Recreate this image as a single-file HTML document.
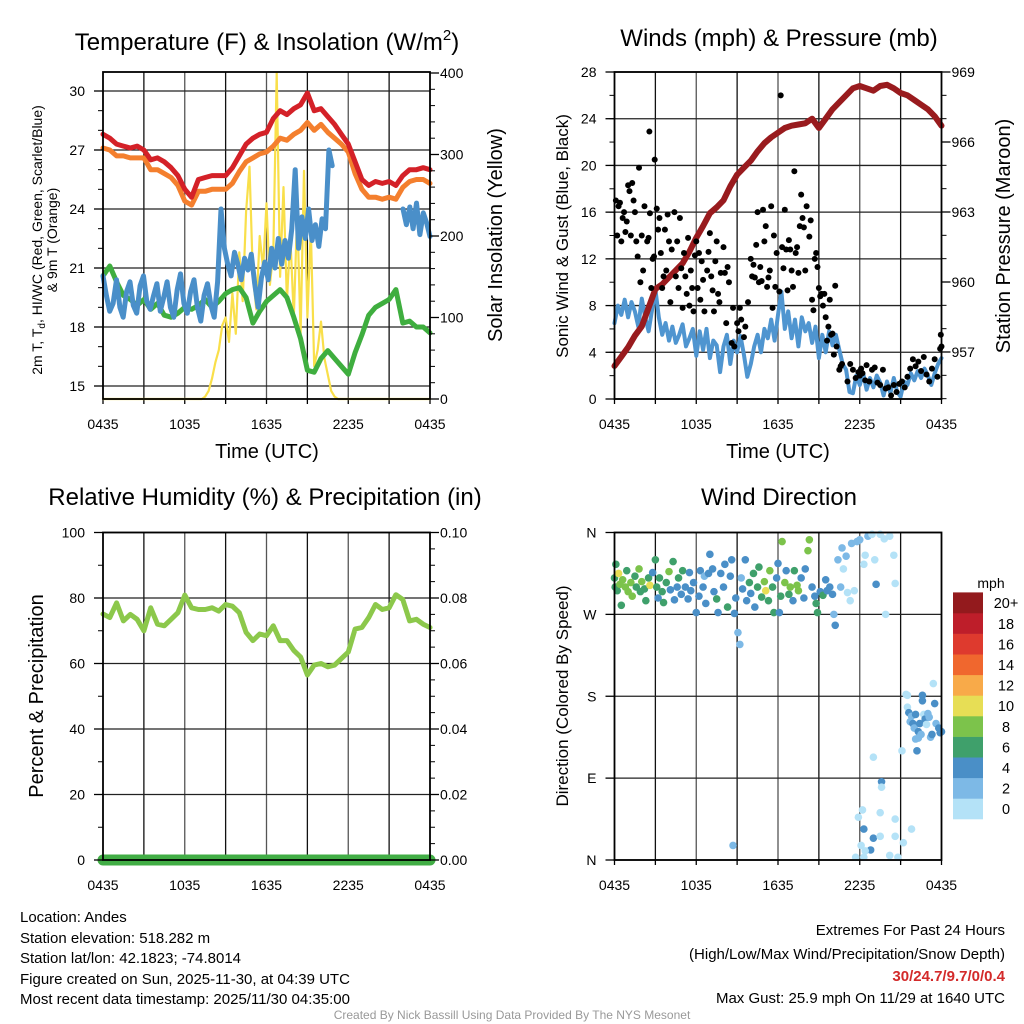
<!DOCTYPE html>
<html><head><meta charset="utf-8"><title>Station Meteogram</title>
<style>
html,body{margin:0;padding:0;background:#fff;}
svg{display:block;font-family:"Liberation Sans",Arial,sans-serif;}
</style></head>
<body>
<svg id="chart" width="1024" height="1024" viewBox="0 0 1024 1024" xmlns="http://www.w3.org/2000/svg">
<rect x="0" y="0" width="1024" height="1024" fill="#fff"/>
<text x="267" y="50" font-size="24" text-anchor="middle">Temperature (F) &amp; Insolation (W/m<tspan dy="-10" font-size="15">2</tspan><tspan dy="10">)</tspan></text>
<text x="779" y="46" font-size="24" text-anchor="middle">Winds (mph) &amp; Pressure (mb)</text>
<text x="265" y="505" font-size="24" text-anchor="middle">Relative Humidity (%) &amp; Precipitation (in)</text>
<text x="779" y="505" font-size="24" text-anchor="middle">Wind Direction</text>

<text transform="translate(42,240) rotate(-90)" font-size="14" text-anchor="middle">2m T, T<tspan font-size="10" dy="3">d</tspan><tspan dy="-3">, HI/WC (Red, Green, Scarlet/Blue)</tspan></text>
<text transform="translate(57,240) rotate(-90)" font-size="14" text-anchor="middle">&amp; 9m T (Orange)</text>
<text transform="translate(502,235) rotate(-90)" font-size="20" text-anchor="middle">Solar Insolation (Yellow)</text>
<text transform="translate(568,236) rotate(-90)" font-size="17" text-anchor="middle">Sonic Wind &amp; Gust (Blue, Black)</text>
<text transform="translate(1010,236) rotate(-90)" font-size="20" text-anchor="middle">Station Pressure (Maroon)</text>
<text transform="translate(43,696) rotate(-90)" font-size="20" text-anchor="middle">Percent &amp; Precipitation</text>
<text transform="translate(568,696) rotate(-90)" font-size="17" text-anchor="middle">Direction (Colored By Speed)</text>
<text x="267" y="458" font-size="20" text-anchor="middle">Time (UTC)</text>
<text x="778" y="458" font-size="20" text-anchor="middle">Time (UTC)</text>

<g font-size="15">
<text x="20" y="922">Location: Andes</text>
<text x="20" y="943">Station elevation: 518.282 m</text>
<text x="20" y="963">Station lat/lon: 42.1823; -74.8014</text>
<text x="20" y="984">Figure created on Sun, 2025-11-30, at 04:39 UTC</text>
<text x="20" y="1004">Most recent data timestamp: 2025/11/30 04:35:00</text>
</g>
<g font-size="15" text-anchor="end">
<text x="1005" y="935">Extremes For Past 24 Hours</text>
<text x="1005" y="959">(High/Low/Max Wind/Precipitation/Snow Depth)</text>
<text x="1005" y="981" fill="#d32a2a" font-weight="bold">30/24.7/9.7/0/0.4</text>
<text x="1005" y="1003">Max Gust: 25.9 mph On 11/29 at 1640 UTC</text>
</g>
<text x="512" y="1019" font-size="12" fill="#999" text-anchor="middle">Created By Nick Bassill Using Data Provided By The NYS Mesonet</text>
</svg>
<script>
// ---------- DATA ----------
const xTickLabels = ["0435","1035","1635","2235","0435"];
const tempTicks = [15,18,21,24,27,30];
const insolTicks = [0,100,200,300,400];
const windTicks = [0,4,8,12,16,20,24,28];
const presTicks = [957,960,963,966,969];
const rhTicks = [0,20,40,60,80,100];
const precipTicks = ["0.00","0.02","0.04","0.06","0.08","0.10"];
const dirTickLabels = ["N","E","S","W","N"];
const speedBinLabels = ["0","2","4","6","8","10","12","14","16","18","20+"];
const speedColors = ["#b4e2f7","#7db9e6","#4a8fc7","#3fa06b","#7cc34b","#e7de55","#f8aa49","#f0672e","#de3a2e","#be1e2a","#931a1d"];

const airTemp = [27.8,27.6,27.3,27.2,27.1,27.2,27.0,26.5,26.6,26.4,26.1,25.7,25.0,24.6,25.5,25.6,25.7,25.7,25.7,26.1,26.7,27.3,27.6,27.8,27.9,28.6,29.0,28.8,29.1,29.3,29.9,29.0,29.1,28.7,28.3,27.8,27.3,26.4,25.5,25.2,25.4,25.3,25.4,25.2,25.7,26.0,26.0,26.1,26.0];
const temp9m = [27.1,27.0,26.7,26.7,26.6,26.6,26.6,26.0,26.0,25.8,25.6,25.2,24.4,24.2,24.9,24.9,25.0,25.0,25.0,25.3,25.9,26.4,26.6,26.8,26.9,27.2,27.6,27.5,27.8,28.0,28.4,28.0,28.3,27.9,27.6,27.3,26.9,25.8,25.0,24.6,24.6,24.5,24.6,24.5,25.1,25.4,25.5,25.5,25.3];
const dewPoint = [20.6,21.1,20.3,19.6,19.4,19.1,19.4,18.9,19.2,18.6,18.5,18.7,19.0,18.9,19.1,19.4,19.0,19.3,19.7,19.9,20.0,19.5,18.2,18.8,19.3,19.6,19.9,19.5,18.5,17.4,15.8,15.7,16.4,16.8,16.4,16.0,15.6,16.7,17.6,18.6,19.0,19.2,19.4,19.9,18.2,18.3,18.0,18.0,17.7];
const heatIndex = [20.6,19.6,18.8,19.2,20.4,19.0,18.5,19.8,20.3,19.1,18.7,20.1,20.6,19.3,18.9,19.6,20.2,18.8,19.5,20.3,19.0,18.5,19.9,20.7,19.2,18.7,19.8,20.4,19.0,18.3,19.6,20.2,19.1,18.5,20.3,24.0,22.0,21.2,20.6,21.8,21.2,20.4,21.5,20.9,21.7,20.2,19.0,20.5,21.3,20.4,22.0,21.0,22.5,21.2,22.4,21.5,23.0,26.0,22.0,23.6,22.5,24.0,22.4,23.2,22.1,23.5,23.0,27.0,26.2,null,null,null,null,null,null,null,null,null,null,null,null,null,null,null,null,null,null,null,null,24.0,23.2,24.1,23.0,24.3,22.7,23.8,23.3,22.6];
const insolation = [0,0,0,0,0,0,0,0,0,0,0,0,0,0,0,0,0,0,0,0,0,0,0,0,0,0,0,0,0,0,3,10,25,45,60,90,100,70,130,80,180,120,230,285,150,110,200,160,240,140,180,400,150,260,120,200,100,230,80,280,100,210,40,60,95,50,30,10,3,0,0,0,0,0,0,0,0,0,0,0,0,0,0,0,0,0,0,0,0,0,0,0,0,0,0,0,0];

const windSpeed = [6.5,8.0,7.2,8.5,7.0,8.3,7.5,6.2,8.6,7.0,5.8,7.6,9.4,7.0,5.5,6.5,5.0,6.2,4.8,5.5,6.4,4.5,5.2,6.0,3.7,5.8,4.2,6.0,3.5,5.0,4.6,2.3,4.5,5.5,3.0,5.0,4.0,5.4,3.8,1.9,3.0,4.5,5.5,4.0,6.0,5.2,6.8,5.0,7.2,9.2,6.0,7.5,5.2,6.8,4.5,7.0,5.8,6.5,4.8,6.2,3.5,5.5,4.0,5.8,4.6,5.5,4.2,3.0,2.5,0.6,0.5,2.0,1.2,2.2,0.8,1.8,1.0,2.0,1.4,0.3,1.5,0.5,1.8,0.6,0.2,1.5,1.2,2.2,1.6,2.4,1.8,2.6,2.0,1.2,2.2,3.0,3.5];
const pressure = [956.4,956.8,957.2,957.7,958.1,958.9,959.7,959.9,960.2,960.5,960.8,961.3,961.9,962.4,962.95,963.2,963.5,964.1,964.6,964.9,965.2,965.6,965.95,966.2,966.4,966.6,966.7,966.75,966.8,967.0,966.6,967.0,967.4,967.7,968.0,968.3,968.4,968.3,968.2,968.4,968.45,968.3,968.1,968.0,967.8,967.6,967.4,967.1,966.7];
const gustTimes = [0.1,0.2,0.3,0.4,0.5,0.6,0.7,0.8,0.9,1.0,1.1,1.2,1.3,1.4,1.5,1.6,1.7,1.8,1.9,2.0,2.1,2.2,2.56,2.4,2.5,2.6,2.7,2.8,2.9,2.95,3.1,3.2,3.3,3.4,3.5,3.6,3.7,3.8,3.9,4.0,4.1,4.2,4.4,4.5,4.6,4.7,4.8,4.9,5.0,5.1,5.2,5.3,5.4,5.5,5.6,5.7,5.8,5.9,6.0,6.1,6.2,6.3,6.4,6.5,6.6,6.8,6.9,7.0,7.1,7.2,7.3,7.4,7.5,7.6,7.7,7.8,8.0,8.1,8.2,8.3,8.4,8.6,8.7,8.8,9.0,9.1,9.2,9.3,9.5,9.6,9.8,10.0,10.1,10.2,10.3,10.4,10.5,10.6,10.7,10.8,10.9,11.0,11.1,11.2,11.3,11.4,11.5,11.6,11.7,11.8,11.9,12.2,12.1,12.3,12.4,12.5,12.6,12.7,12.8,12.9,13.0,13.1,13.2,13.3,13.4,13.5,13.6,13.7,13.8,13.9,14.0,14.1,14.3,14.4,14.5,14.6,14.7,14.8,14.9,15.0,15.1,15.2,15.3,15.4,15.5,15.6,15.7,15.8,15.9,16.0,16.1,16.2,16.3,16.5,16.6,16.7,17.1,17.3,17.5,17.7,17.9,18.0,18.1,18.2,18.4,18.5,18.7,18.9,19.1,19.3,19.5,19.7,19.9,20.1,20.3,20.5,20.7,20.9,21.1,21.3,21.5,21.7,21.9,22.1,22.3,22.5,22.7,22.9,23.1,23.3,23.5,23.7,23.9,23.95,24.0];
const gustValues = [17,14,16.5,16.8,13.5,15.5,16,14.3,15.2,18.3,17.8,14,18.5,17,16,13.5,12.2,19.8,10,14,11,16.5,22.9,13.5,13.8,15.9,9.5,12,12.2,20.5,16.3,14.5,15.5,12.5,9.5,10.5,14.5,11,15.8,13.5,8.3,12.8,16,10.5,13.5,9.5,15.5,11.2,7.8,12.5,10.5,9,13.8,8,11,9.5,7.5,12.3,13.5,9.5,12.5,8.5,11.8,10.2,7.5,11,12.6,14.2,10.5,9.3,7.5,11.8,13.5,9,8.3,10.8,13,10.8,6.5,11.3,10,4.8,7.8,4.5,6.5,5.8,7.8,6.8,5.3,6.2,8.3,12,10.5,11.5,10.4,13.2,16,10,11.3,10.1,16.2,13.5,14.8,9.6,10.4,11,16.5,7.8,14,9.6,12.5,26,9.2,13,11.2,16.2,12.8,9.3,13.6,12.8,11,9.6,19.5,12.5,13,10.8,14.8,17.5,15.5,14.7,11,16.5,13.9,15.3,8.5,7.6,12,12.5,11.3,9.5,8.8,9,8,9,7,5,6.2,8.5,5.5,5.6,3.8,9.7,4.5,2.5,2.8,3.0,1.5,3.0,2.5,1.8,2.3,2.0,2.6,2.2,1.6,2.9,1.5,2.5,2.7,1.4,1.2,2.5,0.9,1.0,0.3,1.2,0.6,1.3,1.5,1.0,1.9,2.6,3.4,2.8,3.2,2.4,3.6,2.1,1.5,2.6,3.4,1.9,4.3,5.5,4.5];

const rhValues = [75.1,74,78.5,73,75,73.5,70,77,72,71.5,73.5,75.5,80.9,77,76.5,76.5,77,76,78,77.5,75.5,69.5,67,69,68.5,71.5,67,67,64,62,56.5,59.5,60,59,59.5,61.5,63.5,70.5,71,74,78,76.5,77,81,79.5,73,73.5,72,71];
const precipValues = [0,0,0,0,0,0,0,0,0,0,0,0,0,0,0,0,0,0,0,0,0,0,0,0,0];

const dirTimes = [0.0,0.05,0.1,0.2,0.3,0.4,0.5,0.6,0.8,0.9,1.0,1.2,1.3,1.5,1.6,1.8,1.9,2.0,2.2,2.3,2.5,2.6,2.8,3.0,3.1,3.2,3.3,3.5,3.6,3.8,4.0,4.1,4.3,4.4,4.6,4.7,4.9,5.0,5.2,5.4,5.5,5.6,5.8,6.0,6.2,6.3,6.5,6.6,6.7,6.9,7.0,7.2,7.3,7.5,7.6,7.8,8.0,8.1,8.3,8.5,8.6,8.7,8.8,8.9,9.06,9.2,9.3,9.4,9.6,9.7,9.9,10.0,10.2,10.3,10.5,10.6,10.8,11.0,11.1,11.3,11.4,11.6,11.7,11.9,12.0,12.1,12.2,12.3,12.5,12.6,12.8,12.9,13.1,13.2,13.4,13.5,13.7,13.9,14.0,14.2,14.3,14.5,14.7,14.8,14.9,15.1,15.3,15.5,15.6,15.8,16.0,16.1,16.2,16.4,16.6,16.7,16.8,17.0,17.1,17.3,17.4,17.6,17.8,18.0,18.3,18.4,18.6,18.9,19.1,19.2,19.5,19.8,19.9,20.2,20.5,20.6,19.0,19.6,19.6,19.5,20.6,17.9,18.2,18.3,19.0,19.5,18.1,18.8,18.4,17.7,18.3,20.2,20.8,20.6,21.2,21.8,21.1,21.4,21.5,21.5,21.6,21.7,21.8,21.9,22.0,22.1,22.1,22.2,22.3,22.3,22.4,22.5,22.6,22.6,22.7,22.8,22.9,23.0,23.1,23.2,23.3,23.4,23.5,23.6,23.8,23.9,24.0];
const dirValues = [310,300,325,296,315,303,280,308,300,318,295,305,290,312,300,320,295,306,298,285,310,302,316,330,300,288,310,295,283,305,317,297,328,286,300,310,292,318,300,287,316,296,305,272,290,318,300,312,282,315,336,320,295,287,272,315,300,325,278,312,330,16,271,288,250,237,310,298,330,285,305,293,315,278,300,322,289,306,296,285,318,300,272,310,326,272,290,350,305,318,292,300,285,318,302,296,310,288,320,340,352,300,290,282,272,295,291,308,296,300,292,270,258,330,300,343,320,334,294,285,348,296,350,352,325,335,356,358,330,303,358,353,270,356,335,304,113,86,80,52,45,47,55,34,24,26,16,11,10,3,3,5,3,26,19,34,120,182,181,168,162,152,158,150,145,160,133,120,141,134,150,138,181,175,160,155,149,161,157,135,138,194,172,150,145,140,141];
const dirSpeeds = [7,6,6,7,10,8,6,9,8,7,8,9,8,6,7,8,6,9,6,6,7,10,5,6,7,5,7,6,6,7,8,5,6,5,4,6,5,6,4,5,4,4,5,4,4,5,4,3,4,5,4,4,5,6,4,4,4,5,6,4,4,3,4,5,3,3,3,5,4,4,6,5,6,4,6,7,6,8,10,6,8,6,6,4,4,4,6,8,8,4,6,8,4,7,8,8,4,5,5,8,8,5,4,6,6,4,6,5,4,4,4,3,4,2,3,3,1,2,1,1,3,1,2,3,1,0,3,1,1,4,1,1,1,1,1,1,0,4,0,0,0,0,0,4,4,0,0,4,0,0,1,0,0,0,0,0,0,0,0,0,4,2,2,4,2,4,2,4,4,2,4,2,4,4,0,4,0,2,2,2,4,0,4,2,4,4,4];

// ---------- HELPERS ----------
const NS = "http://www.w3.org/2000/svg";
const svg = document.getElementById("chart");
function mk(tag, attrs, parent){
  const el = document.createElementNS(NS, tag);
  for (const k in attrs) el.setAttribute(k, attrs[k]);
  (parent || svg).appendChild(el);
  return el;
}
function linScale(d0,d1,r0,r1){ return v => r0 + (v-d0)*(r1-r0)/(d1-d0); }

const P1 = {x0:103,x1:430,y0:72,y1:399};
const P2 = {x0:614.5,x1:941.5,y0:72,y1:399};
const P3 = {x0:103,x1:430,y0:532.5,y1:860};
const P4 = {x0:614.5,x1:941.5,y0:532.5,y1:860};

function drawFrame(P, name, hLines){
  const g = mk("g", {});
  
  
  const xs = linScale(0,24,P.x0,P.x1);
  for (let h=3; h<24; h+=3){
    const l = mk("line",{x1:xs(h),x2:xs(h),y1:P.y0,y2:P.y1,stroke:(h%6===0?"#555":"#111"),"stroke-width":1.3}, g);
    
    
  }
  hLines.forEach(y=>{
    const l = mk("line",{x1:P.x0,x2:P.x1,y1:y,y2:y,stroke:"#222","stroke-width":1.3}, g);
    
    
  });
  for (let h=0; h<=24; h+=3){
    const t = mk("line",{x1:xs(h),x2:xs(h),y1:P.y1,y2:P.y1+5,stroke:"#000","stroke-width":1.3}, g);
    
    
  }
  xTickLabels.forEach((lab,i)=>{
    const t = mk("text",{x:xs(i*6),y:P.y1+30,"font-size":14,"text-anchor":"middle"}, g);
    t.textContent = lab;
    
    
  });
}
function drawBorder(P, name){
  const r = mk("rect",{x:P.x0,y:P.y0,width:P.x1-P.x0,height:P.y1-P.y0,fill:"none",stroke:"#000","stroke-width":1.8});
  
  
}
function yAxis(P, side, scale, majors, labels, minorStep, dmin, dmax, name){
  const g = mk("g",{});
  
  
  const x = side==="left"?P.x0:P.x1, dir = side==="left"?-1:1;
  if (minorStep){
    for (let v=Math.ceil(dmin/minorStep)*minorStep; v<=dmax+1e-9; v+=minorStep){
      const t = mk("line",{x1:x,x2:x+dir*5,y1:scale(v),y2:scale(v),stroke:"#000","stroke-width":1}, g);
      
      
    }
  }
  majors.forEach((v,i)=>{
    const t = mk("line",{x1:x,x2:x+dir*9,y1:scale(v),y2:scale(v),stroke:"#000","stroke-width":1.3}, g);
    
    
    const tx = mk("text",{x:x+dir*(side==="left"?18:10),y:scale(v)+5,"font-size":14,"text-anchor":side==="left"?"end":"start"}, g);
    tx.textContent = labels[i];
    
    
  });
}
function drawLine(times, vals, xs, ys, color, width, name){
  let segs=[], cur=[];
  vals.forEach((v,i)=>{
    if (v===null){ if(cur.length) segs.push(cur); cur=[]; }
    else cur.push(xs(times[i]).toFixed(1)+","+ys(v).toFixed(1));
  });
  if (cur.length) segs.push(cur);
  const g = mk("g",{});
  
  
  segs.forEach(s=>{
    const p = mk("polyline",{points:s.join(" "),fill:"none",stroke:color,"stroke-width":width,"stroke-linejoin":"round","stroke-linecap":"round"}, g);
    
    
  });
}
function timesFor(arr){ return arr.map((_,i)=>i*24/(arr.length-1)); }

// ---------- PANEL 1 ----------
{
  const xs = linScale(0,24,P1.x0,P1.x1);
  const yT = linScale(15,30,386,91);
  const yI = linScale(0,400,399,73);
  drawFrame(P1, "temperature", tempTicks.map(yT));
  drawLine(timesFor(insolation), insolation, xs, yI, "#f9df4a", 2.2, "insolation-line");
  drawLine(timesFor(airTemp), temp9m, xs, yT, "#f47f2e", 5, "temp-9m-line");
  drawLine(timesFor(airTemp), airTemp, xs, yT, "#d42128", 5, "air-temp-line");
  drawLine(timesFor(dewPoint), dewPoint, xs, yT, "#3fae3f", 5, "dewpoint-line");
  drawLine(timesFor(heatIndex), heatIndex, xs, yT, "#4a8fc9", 5, "heat-index-line");
  drawBorder(P1, "temperature");
  yAxis(P1,"left",yT,tempTicks,tempTicks.map(String),1,14.4,30.9,"temperature-y-axis");
  yAxis(P1,"right",yI,insolTicks,insolTicks.map(String),20,0,400,"insolation-y-axis");
}
// ---------- PANEL 2 ----------
{
  const xs = linScale(0,24,P2.x0,P2.x1);
  const yW = linScale(0,28,399,72);
  const yP = linScale(957,969,352,72);
  drawFrame(P2, "wind", windTicks.map(yW));
  drawLine(timesFor(windSpeed), windSpeed, xs, yW, "#4f95d0", 4, "wind-speed-line");
  drawLine(timesFor(pressure), pressure, xs, yP, "#991b1e", 6, "pressure-line");
  const g = mk("g",{});
  
  
  gustTimes.forEach((t,i)=>{
    const c = mk("circle",{cx:xs(t),cy:yW(gustValues[i]),r:3,fill:"#000"}, g);
    
    
  });
  drawBorder(P2, "wind");
  yAxis(P2,"left",yW,windTicks,windTicks.map(String),2,0,28,"wind-y-axis");
  yAxis(P2,"right",yP,presTicks,presTicks.map(String),1,955,969,"pressure-y-axis");
}
// ---------- PANEL 3 ----------
{
  const xs = linScale(0,24,P3.x0,P3.x1);
  const yR = linScale(0,100,860,532.5);
  const yPr = linScale(0,0.1,860,532.5);
  drawFrame(P3, "humidity", rhTicks.map(yR));
  drawLine(timesFor(rhValues), rhValues, xs, yR, "#8cc84b", 5, "rh-line");
  drawLine(timesFor(precipValues), precipValues, xs, yPr, "#41ad45", 11, "precip-line");
  drawBorder(P3, "humidity");
  yAxis(P3,"left",yR,rhTicks,rhTicks.map(String),10,0,100,"rh-y-axis");
  yAxis(P3,"right",v=>yPr(v),precipTicks.map(Number),precipTicks,0.005,0,0.1,"precip-y-axis");
}
// ---------- PANEL 4 ----------
{
  const xs = linScale(0,24,P4.x0,P4.x1);
  const yD = linScale(0,360,860,532.5);
  const dirTicks = [0,90,180,270,360];
  drawFrame(P4, "direction", dirTicks.map(yD));
  const g = mk("g",{});
  
  
  dirTimes.forEach((t,i)=>{
    const bin = Math.min(10, Math.floor(dirSpeeds[i]/2));
    const c = mk("circle",{cx:xs(t),cy:yD(dirValues[i]),r:3.8,fill:speedColors[bin]}, g);
    
    
  });
  drawBorder(P4, "direction");
  yAxis(P4,"left",yD,dirTicks,dirTickLabels,0,0,360,"direction-y-axis");
  const cb = mk("g",{});
  
  
  const t0 = mk("text",{x:991,y:588,"font-size":14,"text-anchor":"middle"}, cb);
  t0.textContent = "mph";
  
  
  const bh = 20.6;
  speedBinLabels.forEach((lab,i)=>{
    const y = 819 - (i+1)*bh;
    const r = mk("rect",{x:953,y:y,width:30,height:bh+0.3,fill:speedColors[i]}, cb);
    
    
    const tx = mk("text",{x:1006,y:y+bh/2+5.5,"font-size":14.5,"text-anchor":"middle"}, cb);
    tx.textContent = lab;
    
    
  });
}
</script>
</body></html>
